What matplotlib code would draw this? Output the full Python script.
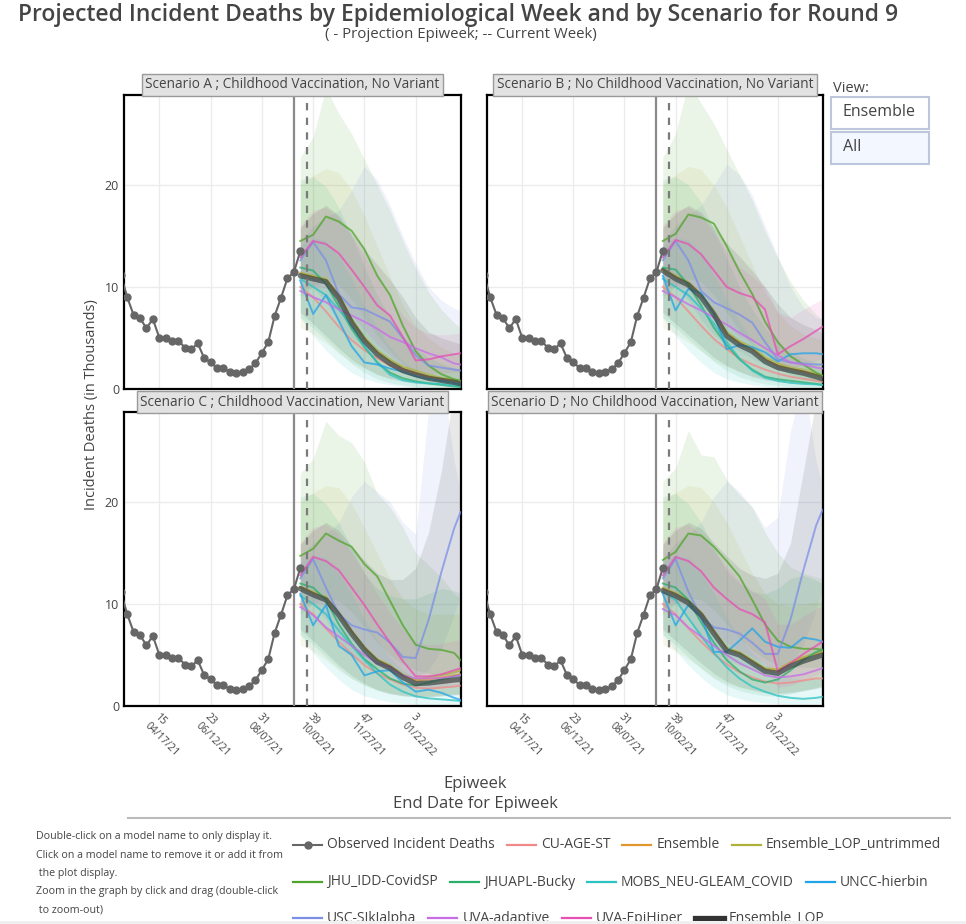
import numpy as np
import matplotlib
matplotlib.use('Agg')
import matplotlib.pyplot as plt
from matplotlib.lines import Line2D
from matplotlib.patches import Rectangle

plt.rcParams['font.family'] = ['Open Sans', 'DejaVu Sans']

# observed incident deaths (thousands), epiweeks 9..37 of 2021
obs_weeks = list(range(9, 38))
obs_deaths = [11.2, 8.99, 7.25, 6.93, 5.95, 6.86, 5.03, 5.03, 4.74, 4.74, 4.05, 3.89, 4.48,
              3.04, 2.61, 2.06, 2.09, 1.63, 1.57, 1.63, 1.93, 2.52, 3.53, 4.58, 7.16, 8.95,
              10.85, 11.44, 13.50]

# projection weeks (continuous count, 53 = week 1 of 2022)
proj_weeks = [37, 39, 41, 43, 45, 47, 49, 51, 53, 55, 57, 59, 61, 62]

tick_weeks = [15, 23, 31, 39, 47, 55]
tick_labels = ['15\n04/17/21', '23\n06/12/21', '31\n08/07/21', '39\n10/02/21',
               '47\n11/27/21', '3\n01/22/22']

projection_week = 36
current_week = 38

models = ['CU-AGE-ST', 'Ensemble', 'Ensemble_LOP_untrimmed', 'JHU_IDD-CovidSP',
          'JHUAPL-Bucky', 'MOBS_NEU-GLEAM_COVID', 'UNCC-hierbin', 'USC-SIkJalpha',
          'UVA-adaptive', 'UVA-EpiHiper', 'Ensemble_LOP']
colors = {'CU-AGE-ST': '#f08a8a', 'Ensemble': '#e0982e', 'Ensemble_LOP_untrimmed': '#aeb23c',
          'JHU_IDD-CovidSP': '#4fa52b', 'JHUAPL-Bucky': '#2aae6c',
          'MOBS_NEU-GLEAM_COVID': '#2cc2c2', 'UNCC-hierbin': '#22a4e8',
          'USC-SIkJalpha': '#7b8fe6', 'UVA-adaptive': '#c86de8', 'UVA-EpiHiper': '#e64fb4',
          'Ensemble_LOP': '#333333'}

titles = ['Scenario A ; Childhood Vaccination, No Variant',
          'Scenario B ; No Childhood Vaccination, No Variant',
          'Scenario C ; Childhood Vaccination, New Variant',
          'Scenario D ; No Childhood Vaccination, New Variant']

proj_A = {
    'CU-AGE-ST': [10.0, 9.0, 7.6, 6.1, 4.8, 3.8, 3.0, 2.3, 1.9, 1.5, 1.2, 1.0, 0.8, 0.65],
    'Ensemble': [11.3, 11.0, 10.7, 9.1, 6.7, 4.9, 3.6, 2.7, 2.0, 1.6, 1.2, 1.0, 0.8, 0.7],
    'Ensemble_LOP_untrimmed': [11.4, 11.1, 10.8, 9.3, 6.9, 5.1, 3.8, 2.9, 2.2, 1.8, 1.4, 1.1, 0.9, 0.8],
    'JHU_IDD-CovidSP': [14.5, 15.1, 16.9, 16.4, 15.5, 13.7, 11.1, 9.2, 6.2, 3.7, 2.3, 1.45, 0.95, 0.8],
    'JHUAPL-Bucky': [11.9, 11.6, 10.3, 8.1, 5.9, 4.1, 2.6, 1.6, 1.05, 0.75, 0.55, 0.4, 0.25, 0.2],
    'MOBS_NEU-GLEAM_COVID': [10.8, 10.0, 9.2, 7.8, 6.2, 4.2, 2.6, 1.4, 0.85, 0.65, 0.55, 0.5, 0.35, 0.3],
    'UNCC-hierbin': [10.6, 7.35, 9.2, 6.7, 4.2, 2.6, 2.4, 2.0, 1.7, 1.25, 1.0, 0.8, 0.6, 0.5],
    'USC-SIkJalpha': [12.6, 14.4, 12.6, 9.3, 8.0, 7.8, 7.2, 6.6, 5.0, 3.3, 2.3, 2.1, 1.9, 1.8],
    'UVA-adaptive': [9.6, 9.0, 8.5, 7.8, 7.2, 6.6, 5.9, 5.1, 4.6, 4.0, 3.5, 3.1, 2.5, 2.4],
    'UVA-EpiHiper': [12.9, 14.5, 14.2, 13.3, 11.7, 10.0, 8.2, 7.2, 5.1, 2.8, 2.9, 3.2, 3.4, 3.5],
    'Ensemble_LOP': [11.1, 10.8, 10.5, 8.9, 6.5, 4.7, 3.4, 2.5, 1.8, 1.4, 1.05, 0.85, 0.65, 0.5],
}
band_A = {
    'JHU_IDD-CovidSP': ([9.0, 10.0, 10.6, 10.2, 8.8, 7.0, 5.2, 3.7, 2.5, 1.6, 1.0, 0.65, 0.45, 0.4],
                        [22.7, 24.7, 29.5, 27.0, 25.0, 22.5, 20.0, 17.5, 14.5, 11.8, 9.5, 7.8, 6.5, 6.0]),
    'USC-SIkJalpha': ([11.0, 10.0, 8.5, 6.5, 5.0, 4.1, 3.4, 2.6, 2.0, 1.5, 1.2, 1.05, 0.95, 0.9],
                      [14.5, 16.0, 16.8, 17.5, 19.5, 21.8, 20.5, 18.0, 15.0, 12.3, 10.0, 8.7, 7.9, 7.7]),
    'Ensemble_LOP_untrimmed': ([6.0, 5.4, 4.5, 3.5, 2.6, 2.0, 1.5, 1.1, 0.9, 0.7, 0.55, 0.45, 0.4, 0.4],
                               [20.0, 20.9, 21.6, 21.2, 19.5, 17.0, 14.0, 11.0, 8.2, 6.2, 5.0, 4.1, 3.5, 3.3]),
    'JHUAPL-Bucky': ([7.0, 6.0, 4.8, 3.6, 2.5, 1.6, 1.0, 0.6, 0.4, 0.25, 0.18, 0.12, 0.1, 0.1],
                     [20.5, 20.8, 19.8, 17.8, 15.0, 12.0, 9.2, 7.0, 5.2, 4.0, 3.1, 2.5, 2.1, 2.0]),
    'Ensemble_LOP': ([7.5, 6.4, 5.2, 4.0, 2.9, 2.1, 1.4, 1.0, 0.75, 0.55, 0.45, 0.35, 0.3, 0.3],
                     [15.8, 17.2, 18.0, 17.0, 15.2, 13.7, 12.2, 10.7, 9.0, 7.0, 5.6, 5.0, 4.6, 4.4]),
    'MOBS_NEU-GLEAM_COVID': ([7.0, 5.2, 3.8, 2.6, 1.6, 1.0, 0.65, 0.4, 0.25, 0.18, 0.12, 0.1, 0.1, 0.1],
                             [14.0, 14.8, 14.5, 13.0, 10.8, 8.2, 6.0, 4.1, 2.7, 1.9, 1.45, 1.2, 1.05, 1.0]),
    'UVA-EpiHiper': ([9.5, 10.1, 9.9, 8.8, 7.2, 5.8, 4.4, 3.3, 2.3, 1.6, 1.5, 1.55, 1.65, 1.7],
                     [16.0, 17.5, 17.8, 16.8, 15.0, 13.0, 11.0, 9.0, 7.2, 6.0, 5.4, 5.3, 5.4, 5.5]),
}

proj_B = {
    'CU-AGE-ST': [10.0, 9.0, 7.6, 6.2, 4.9, 3.9, 3.0, 2.4, 1.9, 1.5, 1.2, 1.0, 0.8, 0.7],
    'Ensemble': [11.7, 11.0, 10.4, 9.2, 7.5, 5.4, 4.5, 3.9, 2.9, 2.3, 2.0, 1.7, 1.4, 1.2],
    'Ensemble_LOP_untrimmed': [11.8, 11.1, 10.5, 9.3, 7.7, 5.6, 4.7, 4.1, 3.1, 2.5, 2.1, 1.9, 1.5, 1.3],
    'JHU_IDD-CovidSP': [14.5, 15.2, 17.1, 16.8, 16.2, 14.0, 11.5, 9.3, 6.6, 4.6, 3.2, 2.4, 1.6, 1.3],
    'JHUAPL-Bucky': [11.9, 11.7, 10.2, 8.2, 6.0, 4.3, 2.9, 1.9, 1.2, 0.95, 0.8, 0.65, 0.5, 0.4],
    'MOBS_NEU-GLEAM_COVID': [10.8, 10.0, 9.2, 7.9, 6.4, 4.6, 3.0, 1.8, 1.1, 0.8, 0.6, 0.5, 0.45, 0.4],
    'UNCC-hierbin': [11.1, 7.7, 9.8, 9.4, 7.35, 3.9, 4.3, 4.1, 3.6, 2.7, 3.4, 3.5, 3.5, 3.4],
    'USC-SIkJalpha': [12.6, 14.5, 12.6, 9.6, 8.5, 7.9, 7.3, 6.5, 4.6, 2.9, 2.6, 2.5, 2.4, 2.4],
    'UVA-adaptive': [9.6, 9.0, 8.3, 7.7, 7.0, 6.3, 5.5, 4.8, 4.0, 3.3, 2.6, 2.4, 2.1, 2.0],
    'UVA-EpiHiper': [12.9, 14.6, 14.2, 13.2, 11.6, 10.0, 9.4, 9.0, 7.8, 3.4, 4.2, 4.9, 5.7, 6.1],
    'Ensemble_LOP': [11.6, 10.8, 10.2, 9.0, 7.3, 5.2, 4.3, 3.7, 2.7, 2.1, 1.8, 1.55, 1.2, 1.0],
}
band_B = {
    'JHU_IDD-CovidSP': ([9.0, 10.0, 10.8, 10.5, 9.2, 7.5, 5.7, 4.2, 3.0, 2.0, 1.4, 1.0, 0.8, 0.7],
                        [22.7, 25.0, 30.0, 28.0, 26.0, 23.5, 21.0, 18.5, 15.5, 12.8, 10.5, 8.7, 7.3, 6.8]),
    'USC-SIkJalpha': ([11.0, 10.0, 8.7, 6.8, 5.3, 4.4, 3.7, 3.0, 2.4, 1.9, 1.6, 1.4, 1.3, 1.3],
                      [14.5, 16.0, 17.0, 18.0, 20.0, 22.0, 21.0, 19.0, 16.0, 13.0, 10.0, 8.0, 7.0, 6.8]),
    'Ensemble_LOP_untrimmed': ([6.0, 5.4, 4.6, 3.7, 2.8, 2.2, 1.7, 1.3, 1.0, 0.8, 0.65, 0.55, 0.5, 0.5],
                               [20.0, 21.0, 21.8, 21.5, 20.0, 17.8, 15.0, 12.2, 9.5, 7.5, 6.2, 5.4, 5.0, 4.8]),
    'JHUAPL-Bucky': ([7.0, 6.0, 4.9, 3.8, 2.7, 1.8, 1.2, 0.8, 0.5, 0.35, 0.25, 0.2, 0.15, 0.15],
                     [20.5, 20.8, 20.0, 18.3, 15.6, 12.8, 10.0, 7.8, 6.0, 4.6, 3.6, 3.0, 2.6, 2.4]),
    'Ensemble_LOP': ([7.5, 6.4, 5.3, 4.2, 3.1, 2.3, 1.7, 1.2, 0.9, 0.7, 0.6, 0.5, 0.45, 0.4],
                     [15.8, 17.2, 18.0, 17.3, 15.8, 14.3, 13.0, 11.6, 10.0, 8.3, 7.0, 6.3, 5.8, 5.5]),
    'MOBS_NEU-GLEAM_COVID': ([7.0, 5.2, 3.8, 2.6, 1.6, 1.0, 0.65, 0.4, 0.25, 0.18, 0.12, 0.1, 0.1, 0.1],
                             [14.0, 14.8, 14.6, 13.3, 11.2, 8.8, 6.6, 4.7, 3.2, 2.3, 1.8, 1.5, 1.3, 1.2]),
    'UVA-EpiHiper': ([9.5, 10.1, 9.9, 8.9, 7.4, 6.2, 5.2, 4.6, 4.0, 1.8, 2.0, 2.4, 2.8, 3.0],
                     [16.0, 17.5, 17.8, 17.0, 15.3, 13.5, 12.0, 11.0, 10.0, 7.5, 7.0, 7.8, 8.5, 8.8]),
}

proj_C = {
    'CU-AGE-ST': [10.0, 9.0, 7.6, 6.3, 5.1, 4.0, 3.2, 2.6, 2.1, 1.8, 1.7, 1.8, 1.9, 2.0],
    'Ensemble': [11.6, 11.1, 10.6, 9.1, 7.3, 5.7, 4.5, 3.9, 3.0, 2.5, 2.6, 2.8, 3.0, 3.1],
    'Ensemble_LOP_untrimmed': [11.7, 11.2, 10.7, 9.2, 7.4, 5.8, 4.6, 4.0, 3.1, 2.6, 2.8, 3.0, 3.3, 3.5],
    'JHU_IDD-CovidSP': [14.7, 15.4, 16.9, 16.2, 15.6, 13.9, 12.7, 10.3, 7.9, 6.0, 5.6, 5.5, 5.2, 4.5],
    'JHUAPL-Bucky': [12.0, 11.6, 10.4, 8.0, 6.1, 4.6, 3.6, 2.7, 2.2, 2.0, 2.3, 2.6, 2.9, 3.0],
    'MOBS_NEU-GLEAM_COVID': [10.8, 10.0, 9.0, 7.4, 5.9, 4.5, 3.2, 2.1, 1.4, 0.95, 0.75, 0.65, 0.55, 0.5],
    'UNCC-hierbin': [11.0, 7.9, 9.9, 5.9, 5.0, 3.0, 3.4, 3.5, 2.3, 1.4, 1.6, 1.3, 0.8, 0.6],
    'USC-SIkJalpha': [12.5, 14.4, 11.6, 9.0, 7.9, 7.5, 7.2, 6.2, 4.8, 4.7, 8.4, 13.1, 17.4, 19.0],
    'UVA-adaptive': [9.7, 8.9, 7.7, 6.8, 5.9, 5.0, 4.2, 3.8, 3.0, 2.7, 2.7, 2.75, 2.9, 3.0],
    'UVA-EpiHiper': [12.8, 14.6, 14.2, 13.3, 11.6, 9.9, 8.0, 6.2, 4.4, 2.9, 2.9, 3.1, 3.5, 3.7],
    'Ensemble_LOP': [11.5, 10.9, 10.4, 8.9, 7.1, 5.5, 4.3, 3.7, 2.8, 2.2, 2.25, 2.4, 2.55, 2.6],
}
band_C = {
    'JHU_IDD-CovidSP': ([9.0, 10.0, 10.6, 10.3, 9.2, 7.7, 6.2, 5.0, 4.1, 3.5, 3.2, 3.1, 2.9, 2.8],
                        [22.8, 24.2, 27.9, 26.5, 25.8, 23.9, 20.8, 19.5, 17.5, 15.0, 13.8, 12.6, 11.0, 10.5]),
    'USC-SIkJalpha': ([11.0, 10.0, 8.5, 6.5, 5.0, 4.2, 3.8, 3.4, 3.0, 2.8, 3.5, 5.5, 9.0, 11.0],
                      [14.5, 16.0, 16.8, 18.0, 20.5, 22.0, 21.0, 20.0, 18.0, 16.8, 29.0, 33.0, 24.0, 21.0]),
    'Ensemble_LOP_untrimmed': ([6.0, 5.4, 4.5, 3.5, 2.7, 2.1, 1.6, 1.3, 1.1, 1.0, 1.0, 1.1, 1.2, 1.2],
                               [20.0, 20.9, 21.6, 21.4, 19.8, 17.5, 15.0, 12.5, 10.5, 9.5, 9.0, 9.0, 9.0, 9.0]),
    'JHUAPL-Bucky': ([7.0, 6.0, 4.8, 3.7, 2.7, 2.0, 1.5, 1.2, 1.0, 0.9, 0.9, 1.0, 1.1, 1.2],
                     [20.5, 20.8, 19.8, 18.0, 15.5, 13.0, 11.5, 10.8, 10.5, 10.5, 11.0, 11.5, 11.3, 11.0]),
    'Ensemble_LOP': ([7.5, 6.4, 5.2, 4.0, 3.0, 2.2, 1.6, 1.2, 1.0, 0.9, 0.9, 1.0, 1.1, 1.1],
                     [15.8, 17.2, 18.0, 17.2, 15.7, 14.3, 13.0, 12.4, 12.4, 13.5, 17.0, 23.0, 31.0, 35.0]),
    'MOBS_NEU-GLEAM_COVID': ([7.0, 5.2, 3.8, 2.6, 1.6, 1.0, 0.65, 0.4, 0.25, 0.18, 0.12, 0.1, 0.1, 0.1],
                             [14.0, 14.8, 14.5, 13.0, 11.0, 8.5, 6.5, 4.8, 3.5, 2.7, 2.4, 2.3, 2.2, 2.2]),
    'UVA-EpiHiper': ([9.5, 10.1, 9.9, 8.8, 7.2, 5.8, 4.5, 3.5, 2.5, 1.8, 1.6, 1.8, 2.0, 2.1],
                     [16.0, 17.5, 17.8, 16.8, 15.0, 13.0, 11.0, 9.2, 7.5, 6.3, 6.0, 6.1, 6.4, 6.5]),
}

proj_D = {
    'CU-AGE-ST': [10.0, 9.0, 7.6, 6.3, 5.1, 4.1, 3.3, 2.8, 2.4, 2.2, 2.3, 2.5, 2.7, 2.7],
    'Ensemble': [11.5, 11.0, 10.3, 9.1, 7.3, 5.6, 5.2, 4.4, 3.6, 3.5, 4.2, 4.7, 5.1, 5.3],
    'Ensemble_LOP_untrimmed': [11.6, 11.1, 10.4, 9.2, 7.4, 5.7, 5.3, 4.5, 3.7, 3.6, 4.3, 4.8, 5.2, 5.4],
    'JHU_IDD-CovidSP': [14.3, 15.1, 16.9, 16.7, 15.6, 14.2, 12.7, 10.4, 8.0, 6.4, 5.8, 5.6, 5.6, 5.5],
    'JHUAPL-Bucky': [12.0, 11.6, 10.4, 8.2, 6.2, 4.5, 3.4, 2.6, 2.3, 2.6, 3.5, 4.5, 5.3, 5.5],
    'MOBS_NEU-GLEAM_COVID': [11.2, 10.4, 8.6, 6.9, 5.2, 3.8, 2.7, 1.9, 1.4, 1.0, 0.8, 0.7, 0.8, 0.9],
    'UNCC-hierbin': [11.0, 7.9, 9.9, 8.8, 5.3, 5.3, 6.4, 7.6, 6.3, 5.8, 5.7, 6.7, 6.5, 6.3],
    'USC-SIkJalpha': [12.5, 14.4, 11.2, 8.7, 7.7, 7.5, 7.1, 6.2, 5.1, 5.1, 8.5, 13.3, 17.7, 19.2],
    'UVA-adaptive': [9.5, 8.9, 7.7, 6.8, 5.9, 5.0, 4.2, 3.6, 3.0, 2.8, 2.9, 3.1, 3.5, 3.7],
    'UVA-EpiHiper': [12.8, 14.6, 14.2, 13.2, 11.6, 10.5, 9.5, 9.0, 8.2, 3.4, 4.2, 5.1, 5.9, 6.3],
    'Ensemble_LOP': [11.3, 10.8, 10.1, 8.9, 7.1, 5.4, 5.0, 4.2, 3.4, 3.2, 3.9, 4.4, 4.8, 5.0],
}
band_D = {
    'JHU_IDD-CovidSP': ([9.0, 10.0, 10.6, 10.4, 9.4, 8.0, 6.6, 5.5, 4.6, 4.0, 3.8, 3.8, 3.8, 3.8],
                        [22.0, 23.3, 27.0, 24.6, 24.4, 22.2, 20.7, 19.5, 17.0, 15.0, 13.6, 13.0, 12.6, 12.5]),
    'USC-SIkJalpha': ([11.0, 10.0, 8.5, 6.5, 5.2, 4.5, 4.0, 3.6, 3.3, 3.2, 4.0, 6.0, 9.5, 11.5],
                      [14.5, 16.0, 16.8, 18.0, 20.5, 22.0, 21.0, 19.5, 17.5, 18.5, 27.0, 32.0, 24.0, 21.5]),
    'Ensemble_LOP_untrimmed': ([6.0, 5.4, 4.6, 3.7, 2.8, 2.2, 1.8, 1.5, 1.3, 1.3, 1.4, 1.6, 1.8, 1.9],
                               [20.0, 20.9, 21.6, 21.4, 20.0, 18.0, 15.5, 13.0, 11.0, 10.0, 9.8, 10.0, 10.2, 10.2]),
    'JHUAPL-Bucky': ([7.0, 6.0, 4.8, 3.7, 2.7, 2.0, 1.5, 1.2, 1.0, 1.0, 1.2, 1.5, 1.8, 2.0],
                     [20.5, 20.8, 19.8, 18.0, 15.5, 13.2, 12.0, 11.2, 11.0, 11.5, 12.5, 12.8, 12.3, 12.0]),
    'Ensemble_LOP': ([7.5, 6.4, 5.3, 4.2, 3.2, 2.4, 1.9, 1.6, 1.3, 1.2, 1.3, 1.5, 1.7, 1.9],
                     [15.8, 17.2, 18.0, 17.4, 16.0, 14.7, 13.5, 12.8, 12.5, 13.0, 16.0, 23.0, 30.0, 34.0]),
    'MOBS_NEU-GLEAM_COVID': ([7.0, 5.4, 4.0, 2.8, 1.8, 1.1, 0.7, 0.45, 0.3, 0.22, 0.18, 0.16, 0.18, 0.2],
                             [14.0, 14.8, 14.5, 13.0, 11.0, 8.7, 6.8, 5.2, 4.0, 3.2, 2.8, 2.6, 2.6, 2.7]),
    'UVA-EpiHiper': ([9.5, 10.1, 9.9, 8.8, 7.3, 6.2, 5.4, 4.8, 4.2, 1.8, 2.0, 2.5, 3.0, 3.3],
                     [16.0, 17.5, 17.8, 16.8, 15.2, 13.6, 12.3, 11.3, 10.5, 8.0, 8.0, 8.8, 9.5, 9.8]),
}

legend_rows = [['Observed Incident Deaths', 'CU-AGE-ST', 'Ensemble', 'Ensemble_LOP_untrimmed'],
               ['JHU_IDD-CovidSP', 'JHUAPL-Bucky', 'MOBS_NEU-GLEAM_COVID', 'UNCC-hierbin'],
               ['USC-SIkJalpha', 'UVA-adaptive', 'UVA-EpiHiper', 'Ensemble_LOP']]

help_lines = ['Double-click on a model name to only display it.',
              'Click on a model name to remove it or add it from',
              ' the plot display.',
              'Zoom in the graph by click and drag (double-click',
              ' to zoom-out)']

W, H = 966, 924
def fx(px):
    return px / W
def fy(py):
    return 1 - py / H

fig = plt.figure(figsize=(W / 100, H / 100), dpi=100)

# axes boxes in pixels: left, top, right, bottom
boxes = [(124, 95, 461, 389), (487, 95, 823, 389), (124, 412, 461, 706), (487, 412, 823, 706)]
panels = [(proj_A, band_A), (proj_B, band_B), (proj_C, band_C), (proj_D, band_D)]

for i, (box, (proj, bands)) in enumerate(zip(boxes, panels)):
    l, t, r, b = box
    ax = fig.add_axes([fx(l), fy(b), (r - l) / W, (b - t) / H])
    for name, (lo, up) in bands.items():
        ax.fill_between(proj_weeks, lo, up, color=colors[name], alpha=0.11, lw=0, zorder=1)
    for name in models:
        if name == 'Ensemble_LOP':
            ax.plot(proj_weeks, proj[name], color='#3a4444', lw=3.8, alpha=0.7, zorder=4,
                    solid_capstyle='round')
        else:
            ax.plot(proj_weeks, proj[name], color=colors[name], lw=1.4, alpha=0.75, zorder=3)
    ax.axvline(projection_week, color='#8a8a8a', lw=1.6, zorder=5)
    ax.axvline(current_week, color='#7a7a7a', lw=1.6, ls=(0, (3.3, 3.3)), zorder=5)
    ax.plot(obs_weeks, obs_deaths, color='#666666', lw=1.5, marker='o', ms=5, zorder=6)

    ax.set_xlim(9.5, 62.07)
    ax.set_ylim(0, 28.8)
    ax.set_yticks([0, 10, 20])
    ax.set_xticks(tick_weeks)
    ax.grid(True, color='#ececec', lw=1)
    ax.set_axisbelow(True)
    ax.tick_params(length=0, colors='#444444')
    for s in ax.spines.values():
        s.set_color('black')
        s.set_linewidth(1.6)
    if i % 2 == 0:
        ax.set_yticklabels(['0', '10', '20'], fontsize=9)
    else:
        ax.set_yticklabels([])
    if i >= 2:
        ax.set_xticklabels(tick_labels, fontsize=7.5, rotation=-45, ha='left', va='top',
                           rotation_mode='anchor')
        ax.tick_params(axis='x', pad=4)
    else:
        ax.set_xticklabels([])
    # panel title strip
    fig.text(fx((l + r) / 2), fy(t - 10), titles[i], ha='center', va='center', fontsize=9.8,
             color='#444444',
             bbox=dict(boxstyle='square,pad=0.25', fc='#e2e2e2', ec='#9a9a9a', lw=1))

# titles and axis labels
fig.text(fx(18), fy(15), 'Projected Incident Deaths by Epidemiological Week and by Scenario for Round 9',
         ha='left', va='center', fontsize=16.5, fontweight='semibold', color='#444444')
fig.text(fx(461), fy(34), '( - Projection Epiweek; -- Current Week)', ha='center', va='center',
         fontsize=10.8, color='#444444')
fig.text(fx(92), fy(405), 'Incident Deaths (in Thousands)', rotation=90, ha='center', va='center',
         fontsize=10.5, color='#444444')
fig.text(fx(475), fy(784), 'Epiweek', ha='center', va='center', fontsize=12, color='#444444')
fig.text(fx(475), fy(804), 'End Date for Epiweek', ha='center', va='center', fontsize=12,
         color='#444444')

# buttons
fig.text(fx(833), fy(89), 'View:', ha='left', va='center', fontsize=10.5, color='#444444')
for j, (lab, fc) in enumerate([('Ensemble', 'white'), ('All', '#f3f7ff')]):
    y0 = 97 + j * 35
    fig.add_artist(Rectangle((fx(831), fy(y0 + 32)), 98 / W, 32 / H, transform=fig.transFigure,
                             fc=fc, ec='#bcc7dc', lw=1.5))
    fig.text(fx(843), fy(y0 + 15), lab, ha='left', va='center', fontsize=11.5, color='#444444')

# separator line
fig.add_artist(Line2D([fx(128), fx(950)], [fy(818), fy(818)], color='#bbbbbb', lw=1.5,
                      transform=fig.transFigure))

# help text
for k, line in enumerate(help_lines):
    fig.text(fx(36), fy(837 + k * 18.3), line, ha='left', va='center', fontsize=7.7, color='#444444')

# legend laid out in rows, like the original horizontal legend
renderer = fig.canvas.get_renderer()
legend_y = [845, 882, 918]
for r, row in enumerate(legend_rows):
    x = 293
    y = legend_y[r]
    for name in row:
        if name == 'Observed Incident Deaths':
            fig.add_artist(Line2D([fx(x), fx(x + 29)], [fy(y), fy(y)], color='#666666', lw=1.5,
                                  transform=fig.transFigure))
            fig.add_artist(Line2D([fx(x + 14.5)], [fy(y)], color='#666666', marker='o', ms=5,
                                  transform=fig.transFigure))
        elif name == 'Ensemble_LOP':
            fig.add_artist(Line2D([fx(x), fx(x + 29)], [fy(y), fy(y)], color='#333333', lw=3.8,
                                  transform=fig.transFigure))
        else:
            fig.add_artist(Line2D([fx(x), fx(x + 29)], [fy(y), fy(y)], color=colors[name], lw=1.6,
                                  transform=fig.transFigure))
        txt = fig.text(fx(x + 34), fy(y), name, ha='left', va='center', fontsize=10,
                       color='#444444')
        w = txt.get_window_extent(renderer).width
        x = x + 34 + w + 12

# browser strip at the bottom edge
fig.add_artist(Rectangle((0, 0), 1, 3.5 / H, transform=fig.transFigure, fc='#f0f0f0',
                         ec='none', zorder=10))

fig.savefig('out.png', dpi=100)
